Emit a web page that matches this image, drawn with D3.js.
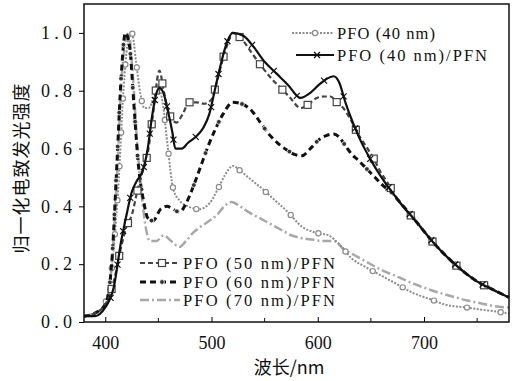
<!DOCTYPE html>
<html>
<head>
<meta charset="utf-8">
<script src="https://cdn.jsdelivr.net/npm/d3@7"></script>
<style>
  body { margin: 0; background: #fff; }
  text { font-family: "Liberation Serif", "DejaVu Serif", serif; fill: #111; }
  .cjk { font-family: "Noto Sans CJK SC", sans-serif; }
</style>
</head>
<body>
<div id="chart"></div>
<script>
// wavelengths (nm) and normalized EL intensity
const wlA = [380,390,398,405,412,418,422,425,429,433,437,441,446,450,454,459,464,470,478,488,498,506,513,520,528,538,548,560,572,585,597,610,620,632,645,660,675,690,705,720,740,760,780]
const vA  = [0.02,0.02,0.05,0.15,0.45,0.85,0.98,1.0,0.9,0.79,0.74,0.74,0.78,0.81,0.76,0.6,0.46,0.42,0.40,0.39,0.41,0.46,0.51,0.54,0.52,0.49,0.46,0.42,0.38,0.33,0.31,0.30,0.27,0.22,0.19,0.16,0.13,0.10,0.08,0.06,0.05,0.04,0.03]

const wlB = [380,390,400,408,415,420,425,430,435,440,444,448,451,455,459,463,466,472,478,485,492,498,503,508,513,520,530,540,550,561,572,584,592,601,608,615,620,626,633,640,650,660,676,692,710,729,748,766,780]
const vB  = [0.02,0.02,0.05,0.12,0.28,0.37,0.45,0.49,0.52,0.6,0.71,0.79,0.81,0.79,0.73,0.66,0.6,0.6,0.62,0.64,0.67,0.72,0.80,0.88,0.95,1.0,0.99,0.95,0.9,0.86,0.82,0.775,0.79,0.82,0.84,0.85,0.83,0.76,0.69,0.63,0.56,0.5,0.42,0.35,0.27,0.20,0.145,0.11,0.085]

const wlC = [380,390,400,408,415,420,425,430,435,440,445,451,455,460,467,473,479,486,493,500,505,510,515,520,528,538,548,557,565,573,584,592,599,606,612,618,624,631,638,645,652,659,666,676,692,710,729,748,766,780]
const vC  = [0.02,0.03,0.06,0.14,0.26,0.33,0.37,0.45,0.52,0.585,0.72,0.87,0.80,0.72,0.69,0.72,0.76,0.76,0.755,0.77,0.83,0.9,0.96,1.0,0.98,0.93,0.88,0.84,0.81,0.78,0.74,0.755,0.775,0.78,0.78,0.76,0.74,0.70,0.65,0.61,0.57,0.52,0.48,0.42,0.35,0.27,0.20,0.145,0.11,0.085]

const wlD = [380,390,400,406,411,415,419,423,427,431,436,440,445,452,458,464,470,476,483,490,497,504,511,520,528,538,546,554,562,571,578,585,593,601,608,615,620,626,632,638,646,654,662,669,676,692,710,729,748,766,780]
const vD  = [0.02,0.03,0.06,0.2,0.55,0.85,1.0,0.95,0.75,0.55,0.42,0.36,0.35,0.39,0.40,0.39,0.38,0.41,0.47,0.54,0.61,0.67,0.72,0.76,0.755,0.73,0.69,0.65,0.62,0.595,0.58,0.575,0.6,0.63,0.645,0.65,0.64,0.61,0.58,0.56,0.53,0.50,0.47,0.45,0.42,0.35,0.27,0.20,0.145,0.11,0.085]

const wlE = [380,390,400,406,411,415,419,422,426,430,434,438,442,448,455,462,470,476,483,490,498,505,512,519,527,535,545,555,565,575,585,595,605,615,625,635,645,660,676,692,707,725,740,753,766,780]
const vE  = [0.02,0.03,0.06,0.2,0.5,0.82,0.97,1.0,0.85,0.62,0.45,0.33,0.28,0.28,0.30,0.28,0.26,0.28,0.31,0.33,0.35,0.37,0.40,0.415,0.40,0.38,0.36,0.34,0.32,0.30,0.29,0.285,0.28,0.28,0.25,0.23,0.21,0.18,0.155,0.13,0.11,0.09,0.075,0.065,0.055,0.05]

const seriesNames = ['PFO (40 nm)', 'PFO (40 nm)/PFN', 'PFO (50 nm)/PFN', 'PFO (60 nm)/PFN', 'PFO (70 nm)/PFN']
const xTicks = [400, 500, 600, 700]
const xMinor = [450, 550, 650, 750]
const yTicks = [0, 0.2, 0.4, 0.6, 0.8, 1.0]

const W = 517, H = 381
const margin = {left: 84, top: 4, right: 8, bottom: 59}

const svg = d3.select('#chart').append('svg')
  .attr('width', W)
  .attr('height', H)

const x = d3.scaleLinear().domain([380, 780]).range([margin.left, W - margin.right])
const y = d3.scaleLinear().domain([0, 1.1]).range([H - margin.bottom, margin.top])

// styles per series
const styles = [
  {color: '#8c8c8c', width: 2, dash: '2,1.5', marker: 'circle'},
  {color: '#111', width: 2.2, dash: null, marker: 'cross'},
  {color: '#444', width: 2.2, dash: '5,3', marker: 'square'},
  {color: '#111', width: 3, dash: '6,4', marker: 'dot'},
  {color: '#a8a8a8', width: 2.5, dash: '9,3,2,3', marker: null}
]

const data = [
  d3.zip(wlA, vA), d3.zip(wlB, vB), d3.zip(wlC, vC), d3.zip(wlD, vD), d3.zip(wlE, vE)
]

const line = d3.line()
  .x(d => x(d[0]))
  .y(d => y(d[1]))
  .curve(d3.curveMonotoneX)

const plot = svg.append('g')

function drawMarker(g, type, cx, cy, color) {
  if (type === 'circle') {
    g.append('circle').attr('cx', cx).attr('cy', cy).attr('r', 2.6)
      .attr('fill', '#fff').attr('stroke', color).attr('stroke-width', 1.2)
  } else if (type === 'dot') {
    g.append('circle').attr('cx', cx).attr('cy', cy).attr('r', 2.4)
      .attr('fill', '#333').attr('stroke', '#fff').attr('stroke-width', 0.8)
  } else if (type === 'square') {
    g.append('rect').attr('x', cx - 3.5).attr('y', cy - 3.5).attr('width', 7).attr('height', 7)
      .attr('fill', '#fff').attr('stroke', color).attr('stroke-width', 1.2)
  } else if (type === 'cross') {
    g.append('path').attr('d', `M${cx - 3},${cy - 3}L${cx + 3},${cy + 3}M${cx - 3},${cy + 3}L${cx + 3},${cy - 3}`)
      .attr('stroke', color).attr('stroke-width', 1.2)
  }
}

// draw back to front
const order = [4, 0, 3, 2, 1]
order.forEach(i => {
  const s = styles[i]
  const p = plot.append('path')
    .datum(data[i])
    .attr('d', line)
    .attr('fill', 'none')
    .attr('stroke', s.color)
    .attr('stroke-width', s.width)
    .attr('stroke-dasharray', s.dash)
  if (s.marker) {
    const node = p.node()
    const len = node.getTotalLength()
    const mg = plot.append('g')
    for (let l = 30 + i * 6; l < len; l += 34) {
      const pt = node.getPointAtLength(l)
      drawMarker(mg, s.marker, pt.x, pt.y, s.color)
    }
  }
})

// frame
svg.append('rect')
  .attr('x', margin.left).attr('y', margin.top)
  .attr('width', W - margin.left - margin.right)
  .attr('height', H - margin.top - margin.bottom)
  .attr('fill', 'none').attr('stroke', '#111').attr('stroke-width', 1.5)

// axes
const xAxis = svg.append('g')
  .attr('transform', `translate(0,${y(0)})`)
  .call(d3.axisBottom(x).tickValues(xTicks).tickSizeInner(-5).tickSizeOuter(0).tickPadding(14))
xAxis.select('.domain').remove()
xAxis.selectAll('text').attr('font-size', 18).style('font-family', '"Liberation Serif", serif')

svg.append('g')
  .attr('transform', `translate(0,${y(0)})`)
  .selectAll('line')
  .data(xMinor)
  .join('line')
  .attr('x1', d => x(d)).attr('x2', d => x(d))
  .attr('y1', 0).attr('y2', -4)
  .attr('stroke', '#111')

const yAxis = svg.append('g')
  .attr('transform', `translate(${margin.left},0)`)
  .call(d3.axisLeft(y).tickValues(yTicks).tickFormat(d3.format('.1f')).tickSizeInner(5).tickSizeOuter(0).tickPadding(7))
yAxis.select('.domain').remove()
yAxis.selectAll('text')
  .attr('font-size', 18)
  .attr('textLength', 31)
  .attr('lengthAdjust', 'spacing')
  .style('font-family', '"Liberation Serif", serif')

// axis titles
svg.append('text')
  .attr('class', 'cjk')
  .attr('x', 289).attr('y', 374)
  .attr('text-anchor', 'middle')
  .attr('font-size', 18)
  .text('波长/nm')

svg.append('text')
  .attr('class', 'cjk')
  .attr('transform', 'translate(28,168) rotate(-90)')
  .attr('text-anchor', 'middle')
  .attr('font-size', 18)
  .attr('letter-spacing', 1)
  .text('归一化电致发光强度')

// legends
const legendItems = [
  {i: 0, x0: 292, x1: 334, ty: 33, tw: 98},
  {i: 1, x0: 296, x1: 334, ty: 55, tw: 150},
  {i: 2, x0: 140, x1: 180, ty: 263, tw: 152},
  {i: 3, x0: 140, x1: 180, ty: 282, tw: 152},
  {i: 4, x0: 140, x1: 180, ty: 300, tw: 152}
]
const lg = svg.append('g')
legendItems.forEach(it => {
  const s = styles[it.i]
  lg.append('line')
    .attr('x1', it.x0).attr('x2', it.x1)
    .attr('y1', it.ty).attr('y2', it.ty)
    .attr('stroke', s.color).attr('stroke-width', s.width)
    .attr('stroke-dasharray', s.dash)
  if (s.marker) drawMarker(lg, s.marker, (it.x0 + it.x1) / 2 + 2, it.ty, s.color)
  lg.append('text')
    .attr('x', it.x1 + 3).attr('y', it.ty)
    .attr('dy', '0.35em')
    .attr('font-size', 16.5)
    .attr('textLength', it.tw)
    .attr('lengthAdjust', 'spacing')
    .text(seriesNames[it.i])
})
</script>
</body>
</html>
